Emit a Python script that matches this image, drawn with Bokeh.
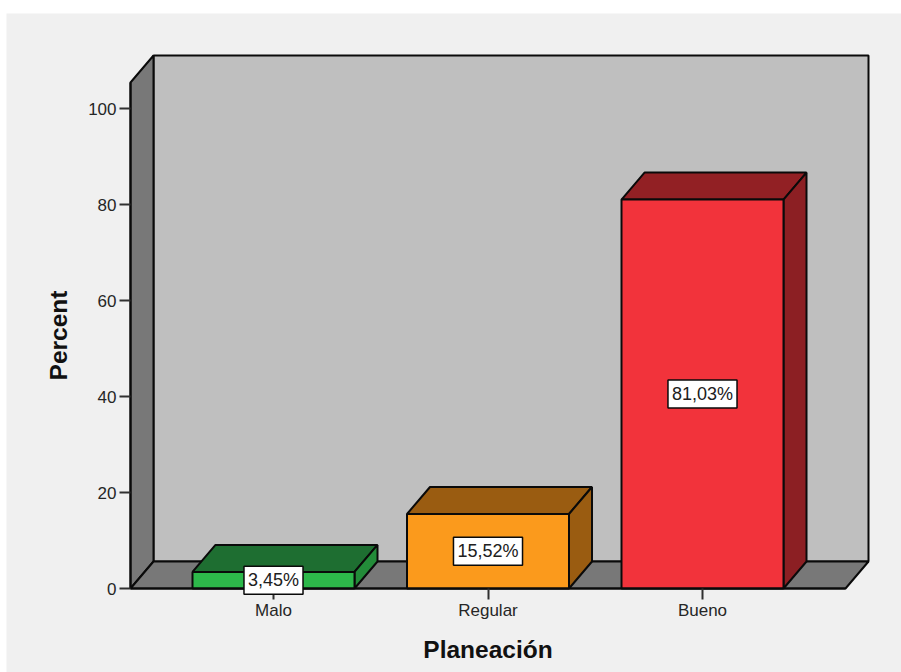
import math
from bokeh.plotting import figure
from bokeh.embed import file_html
from bokeh.resources import INLINE
from bokeh.models import Label, FixedTicker, Range1d

categories = ["Malo", "Regular", "Bueno"]
percent = [3.45, 15.52, 81.03]
labels = ["3,45%", "15,52%", "81,03%"]
y_ticks = [0, 20, 40, 60, 80, 100]
x_pos = [0, 1, 2]
x_title = "Planeación"
y_title = "Percent"
front_colors = ["#2db84a", "#fb9a1c", "#f2333b"]
top_colors = ["#1e6e31", "#9a5c11", "#922024"]
side_colors = ["#238c39", "#9a5c11", "#8c1f23"]

PANEL = "#f0f0f0"
WALL = "#bfbfbf"
SHADE = "#787878"
BLACK = "#0a0a0a"

# Layout in page pixels
fig_left, fig_top = 6, 13
fig_w, fig_h = 895, 659
L, R, T, B = 130, 868, 55, 588
PX_PER_X = 214.5
PX_PER_Y = 4.8
X0_PX = 273

xr = Range1d((fig_left - X0_PX) / PX_PER_X, (fig_left + fig_w - X0_PX) / PX_PER_X)
yr = Range1d((B - fig_top - fig_h) / PX_PER_Y, (B - fig_top) / PX_PER_Y)
DX = 23 / PX_PER_X
DY = 27 / PX_PER_Y
HALF = 81 / PX_PER_X
x_left = (L - X0_PX) / PX_PER_X
x_right = (R - X0_PX) / PX_PER_X
y_top = (B - T) / PX_PER_Y

p = figure(width=fig_w, height=fig_h, x_range=xr, y_range=yr,
           output_backend="svg", toolbar_location=None,
           min_border=0, background_fill_color=PANEL, border_fill_color=PANEL,
           outline_line_color=None)
p.styles = {"margin-top": f"{fig_top}px", "margin-left": f"{fig_left}px"}
p.grid.visible = False

back_l = x_left + DX
front_r = x_right - DX
# Back wall
p.patch([back_l, x_right, x_right, back_l], [DY, DY, y_top, y_top],
        fill_color=WALL, line_color=BLACK, line_width=2)
# Left wall
p.patch([x_left, back_l, back_l, x_left], [0, DY, y_top, y_top - DY],
        fill_color=SHADE, line_color=BLACK, line_width=2)
# Floor
p.patch([x_left, back_l, x_right, front_r], [0, DY, DY, 0],
        fill_color=SHADE, line_color=BLACK, line_width=2)

for x, v, fc, tc, sc in zip(x_pos, percent, front_colors, top_colors, side_colors):
    l, r = x - HALF, x + HALF
    p.patch([l, l + DX, r + DX, r], [v, v + DY, v + DY, v],
            fill_color=tc, line_color=BLACK, line_width=2)
    p.patch([r, r + DX, r + DX, r], [0, DY, v + DY, v],
            fill_color=sc, line_color=BLACK, line_width=2)
    p.quad(left=[l], right=[r], bottom=[0], top=[v],
           fill_color=fc, line_color=BLACK, line_width=2)

p.xaxis.ticker = FixedTicker(ticks=x_pos)
p.xaxis.major_label_overrides = dict(zip(x_pos, categories))
p.yaxis.ticker = FixedTicker(ticks=y_ticks)
p.xaxis.bounds = (x_left, front_r)
p.yaxis.bounds = (0, y_top - DY)
p.xaxis.fixed_location = 0
p.yaxis.fixed_location = x_left
for ax in (p.xaxis, p.yaxis):
    ax.axis_line_color = BLACK
    ax.axis_line_width = 2
    ax.major_tick_line_color = "#303030"
    ax.major_tick_line_width = 2
    ax.major_tick_out = 11
    ax.major_tick_in = 0
    ax.minor_tick_line_color = None
    ax.major_label_text_font = "Liberation Sans"
    ax.major_label_text_font_size = "17px"
    ax.major_label_text_color = "#262626"
p.xaxis.major_label_standoff = 1
p.yaxis.major_label_standoff = 3

for x, v, t in zip(x_pos, percent, labels):
    p.add_layout(Label(x=x, y=v / 2, text=t,
                       text_align="center", text_baseline="middle",
                       text_font="Liberation Sans", text_font_size="18px",
                       text_color="#202020", padding=4,
                       background_fill_color="white", border_line_color=BLACK,
                       border_line_width=1.5))

# Axis titles sit at the middle of the axes' extent
p.add_layout(Label(x=(x_left + front_r) / 2, y=-(649 - B) / PX_PER_Y, text=x_title,
                   text_align="center", text_baseline="middle",
                   text_font="Liberation Sans", text_font_style="bold",
                   text_font_size="24.5px", text_color="#111111"))
p.add_layout(Label(x=(58 - X0_PX) / PX_PER_X, y=(y_top - DY) / 2, text=y_title, angle=math.pi / 2,
                   text_align="center", text_baseline="middle",
                   text_font="Liberation Sans", text_font_style="bold",
                   text_font_size="24.5px", text_color="#111111"))

open("out.html", "w").write(file_html(p, INLINE))
